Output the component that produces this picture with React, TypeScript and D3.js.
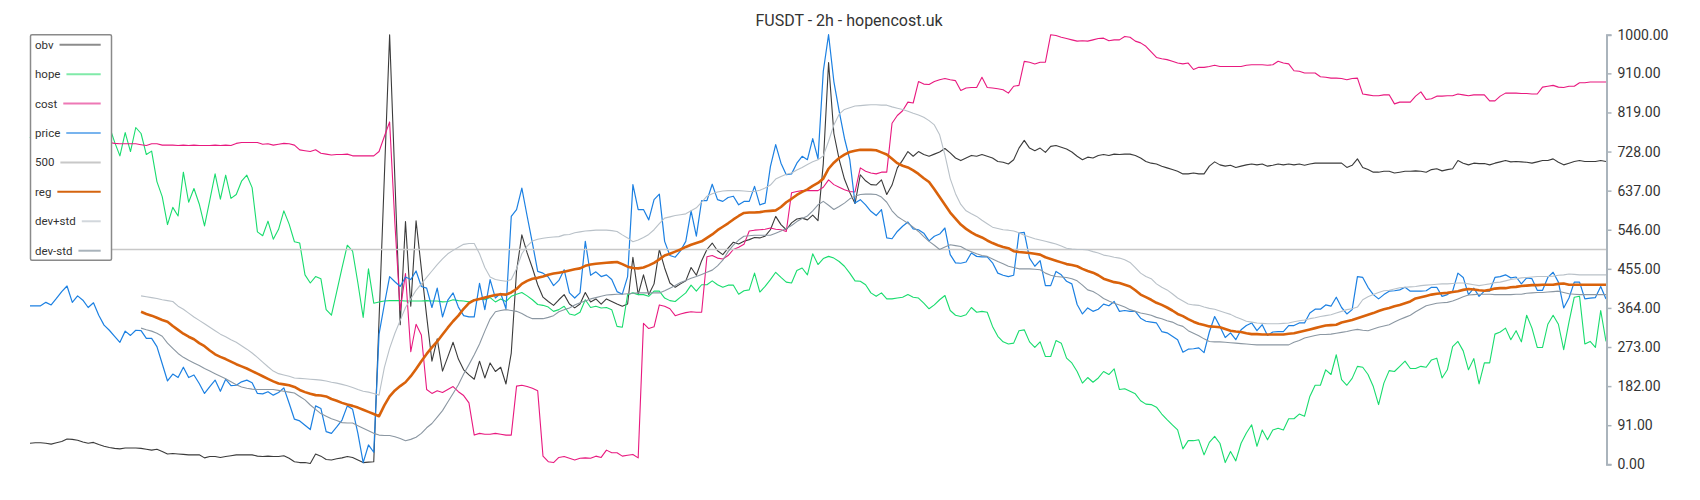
import React, { useEffect, useRef } from 'react';
import * as d3 from 'd3';

const TITLE = 'FUSDT - 2h - hopencost.uk';
const Y_TICKS = [0, 91, 182, 273, 364, 455, 546, 637, 728, 819, 910, 1000];
const LEVEL_500 = 500;
const BAND_START = 21;

const obv = [49,50,50,49,47,50,53,59,58,56,
52,49,51,46,42,39,37,36,38,38,
38,37,35,33,35,30,24,25,24,23,
22,22,22,15,18,18,16,18,20,22,
22,22,22,19,18,19,18,18,20,14,
6,4,4,2,24,19,11,10,13,15,
18,16,10,4,5,6,337,668,1000,662,
325,565,368,567,455,345,240,292,217,250,
284,245,220,208,198,240,201,236,216,226,
187,259,450,534,492,457,418,389,379,370,
383,395,373,364,373,400,378,385,373,385,
379,373,368,373,482,395,441,395,420,500,
457,422,412,420,427,458,440,474,500,515,
497,488,503,517,513,519,523,528,527,531,
546,577,558,546,562,571,573,569,580,567,
700,935,770,710,664,633,607,674,660,651,
650,662,628,650,690,708,728,717,728,721,
717,722,727,735,725,713,707,713,719,717,
721,717,713,705,703,699,709,736,754,736,
730,736,726,740,742,738,734,727,717,709,
715,713,719,721,719,722,721,722,722,719,
713,705,701,699,694,690,686,682,676,676,
678,676,676,694,704,697,694,696,691,694,
697,699,697,699,694,696,699,697,699,697,
699,696,699,701,701,701,701,701,701,691,
696,711,691,686,680,680,682,682,678,680,
682,682,683,682,680,686,688,683,686,688,
707,701,697,701,700,700,697,701,704,707,
704,705,704,703,701,704,707,707,711,703,
697,701,705,707,705,705,705,707,705];

const hope = [760,775,790,770,785,800,780,795,775,790,
805,785,770,795,780,787,750,718,772,728,
784,770,721,729,658,623,558,598,578,680,
610,642,606,555,615,676,617,673,619,628,
659,673,644,541,532,566,524,547,590,559,
518,515,441,422,437,432,360,347,402,457,
510,496,422,342,455,375,378,380,381,381,
381,380,380,380,380,381,380,380,378,379,
383,381,380,378,383,385,383,388,378,385,
379,391,396,400,392,383,372,370,366,356,
360,368,350,347,354,383,365,368,364,365,
360,321,319,395,399,395,395,391,403,403,
387,381,379,389,399,417,403,418,418,427,
418,412,417,417,396,404,406,445,401,414,
430,447,435,424,422,451,457,441,490,465,
479,484,480,472,461,445,427,426,418,399,
391,399,385,385,387,389,395,389,387,375,
362,371,383,393,358,347,344,348,365,354,
356,354,321,298,285,280,282,311,313,285,
272,285,251,251,288,282,247,236,216,189,
202,191,201,216,209,222,174,176,170,164,
148,140,139,133,117,104,92,80,36,55,
55,57,22,51,65,49,4,30,8,49,
73,92,42,80,57,80,84,80,106,106,
117,112,158,184,184,220,209,255,197,184,
200,228,226,209,181,139,189,218,216,228,
240,223,223,228,226,243,247,201,220,274,
286,264,220,246,187,236,236,303,308,317,
290,311,285,347,317,272,272,326,347,326,
267,331,389,391,280,286,272,358,286];

const cost = [750,751,749,750,752,750,749,748,750,751,
749,750,748,749,749,749,747,746,746,746,
746,744,742,746,746,743,743,743,742,743,
742,743,742,742,742,743,742,743,742,747,
749,749,749,749,745,746,743,745,747,746,
743,732,730,728,732,724,722,720,721,721,
722,718,718,718,718,718,728,763,797,560,
359,444,262,326,301,174,165,171,167,174,
181,169,160,143,68,72,70,70,72,70,
68,68,182,184,181,177,171,19,6,4,
16,18,14,10,14,15,14,19,16,33,
27,27,19,21,23,15,328,316,320,371,
368,362,346,350,353,355,354,354,483,486,
480,478,486,500,505,512,543,545,546,547,
550,547,546,542,632,635,637,637,637,637,
645,662,651,645,639,635,634,690,682,678,
676,680,680,794,812,823,843,841,891,885,
884,891,895,898,895,893,870,876,877,877,
901,877,876,874,872,864,880,882,938,936,
932,936,936,1000,998,994,991,988,985,986,
985,988,991,992,986,988,988,996,994,985,
981,973,960,947,944,942,938,934,932,934,
919,924,924,926,929,926,926,926,926,926,
929,930,930,930,929,930,938,934,932,916,
915,911,911,911,902,901,899,899,898,895,
898,899,862,860,858,858,860,860,839,843,
843,843,857,867,849,851,857,857,858,858,
862,860,858,860,860,860,846,846,857,864,
864,864,863,863,862,862,878,880,882,878,
877,880,880,888,888,890,890,890,890];

const price = [369,369,369,377,371,386,402,415,377,392,
382,365,376,347,324,312,298,284,310,300,
312,311,293,293,274,234,194,210,202,226,
202,208,188,165,181,196,170,198,183,184,
192,196,190,165,164,169,161,167,178,142,
105,101,91,81,136,130,76,72,87,103,
136,128,72,4,45,28,303,372,437,425,
414,436,430,450,414,410,365,410,343,382,
399,366,346,343,343,421,360,430,387,398,
362,577,593,643,578,515,449,445,436,416,
428,453,399,387,399,519,440,448,437,441,
430,402,396,437,651,593,593,569,616,629,
519,486,482,497,519,590,531,614,614,652,
616,612,621,624,604,612,612,647,604,608,
693,744,701,674,676,701,717,709,758,711,
915,1000,891,822,759,710,608,616,604,589,
579,593,527,525,542,554,564,548,546,538,
520,531,536,550,488,469,468,471,492,484,
483,483,469,445,440,437,440,538,540,480,
461,474,416,416,449,441,426,420,372,350,
364,356,361,373,369,379,356,358,356,356,
340,333,331,329,309,306,298,290,261,268,
269,271,260,308,344,321,295,306,290,313,
323,329,311,325,300,308,309,309,323,323,
329,329,352,361,361,371,368,389,365,350,
360,437,435,412,395,385,395,403,404,406,
412,403,403,403,404,412,412,391,395,403,
445,435,395,410,391,403,403,435,437,441,
434,436,420,434,432,405,405,435,447,424,
364,387,424,424,385,387,388,414,385];

// regression + bands start at BAND_START
const reg = [355,350,346,341,336,332,322,313,304,
297,291,282,275,265,256,250,245,239,233,
228,223,217,211,205,199,193,188,186,184,
180,173,168,164,161,160,158,152,148,143,
139,136,132,127,122,117,112,137,158,172,
182,191,205,222,240,257,272,286,302,318,
333,346,362,375,382,385,388,391,394,396,
395,400,408,420,427,432,434,437,441,444,
446,448,451,454,456,462,465,467,468,469,
470,471,466,460,457,456,458,463,469,477,
486,490,495,500,506,511,515,519,527,535,
545,553,561,570,578,585,586,586,587,589,
590,591,599,610,618,627,634,640,648,655,
665,688,702,713,721,727,730,732,732,732,
731,726,721,711,701,695,691,684,676,666,
657,640,622,604,586,572,558,548,540,533,
528,521,515,510,506,503,496,494,493,492,
490,488,482,478,474,470,466,464,461,455,
450,446,440,432,428,424,422,418,414,405,
395,389,383,376,371,365,358,350,345,338,
332,327,324,321,320,319,315,311,309,308,
305,303,303,302,302,302,302,302,304,305,
308,311,314,317,320,323,324,325,330,333,
336,340,344,348,352,357,361,364,368,371,
375,379,386,389,392,395,397,398,399,401,
403,406,408,407,405,404,406,409,410,410,
412,413,415,416,417,417,418,418,418,420,
421,418,418,418,418,418,418,418,418];

const devPlus = [392,390,388,386,383,381,379,368,361,
352,343,335,327,319,311,303,297,290,284,
276,268,259,249,238,227,217,211,208,205,
201,200,199,198,197,196,194,191,189,186,
183,179,174,170,168,165,161,225,270,305,
335,365,385,405,420,435,450,465,478,490,
498,505,512,514,514,490,458,436,430,428,
426,430,455,490,508,520,524,526,528,529,
530,534,535,539,541,543,544,545,545,545,
544,542,534,527,518,522,528,535,546,560,
573,576,579,581,583,590,597,610,624,630,
634,636,637,637,637,636,635,635,638,643,
650,664,670,675,678,685,691,698,704,709,
718,752,790,815,826,830,834,835,836,837,
837,836,836,832,829,826,822,817,813,808,
800,790,767,720,665,630,605,590,583,577,
568,560,552,549,546,545,543,539,533,529,
525,522,519,516,513,508,503,501,500,500,
499,495,492,487,485,482,480,476,470,458,
445,437,432,420,412,406,397,387,380,373,
371,370,366,363,361,357,353,349,343,338,
333,331,329,328,327,327,327,328,329,332,
334,336,339,341,344,346,348,352,356,360,
362,366,383,390,395,400,404,405,408,411,
412,413,414,416,417,418,419,420,420,421,
422,422,420,418,416,418,420,423,424,427,
430,432,434,435,436,437,437,437,438,440,
441,443,442,441,441,441,441,441,441];

const devMinus = [317,313,310,305,298,282,270,258,249,
242,236,230,223,217,211,205,199,192,185,
180,177,175,174,174,174,174,172,170,168,
166,158,150,138,128,118,112,106,102,97,
96,96,90,84,78,72,68,67,67,64,
60,55,58,63,72,85,95,110,125,145,
165,185,210,232,255,280,310,338,355,358,
360,358,356,351,344,339,339,339,342,346,
355,360,364,371,376,380,385,388,391,394,
395,396,396,397,398,399,399,399,399,399,
404,410,416,423,428,433,437,442,447,452,
462,475,495,510,522,531,532,533,533,533,
533,538,543,549,556,565,572,578,590,604,
612,603,593,600,608,618,624,628,629,629,
628,622,610,590,577,569,561,552,542,530,
519,510,500,506,511,509,507,500,495,490,
486,484,478,472,467,461,458,455,455,455,
454,453,445,440,437,436,435,432,427,417,
406,402,395,386,380,375,371,366,360,356,
352,350,347,342,339,334,331,325,321,311,
305,299,292,286,285,285,284,283,282,281,
280,279,278,278,278,278,278,278,278,284,
288,294,297,300,302,302,303,305,307,309,
312,314,312,311,315,319,322,325,331,337,
342,347,355,362,369,372,375,376,377,380,
385,390,394,395,396,396,396,395,395,395,
395,396,396,398,399,400,400,401,402,403,
400,397,396,395,395,395,395,395,395];

const W = 1700;
const H = 500;
const PLOT_LEFT = 30;
const PLOT_RIGHT = 1606;
const PLOT_TOP = 34.7;
const PLOT_BOTTOM = 464.3;
const FONT = 'Roboto, "Noto Sans", sans-serif';

type Series = { key: string; data: number[]; start: number; color: string; width: number };

const SERIES: Series[] = [
  { key: 'obv', data: obv, start: 0, color: '#3b3b3b', width: 1.1 },
  { key: 'hope', data: hope, start: 0, color: '#19dc6e', width: 1.1 },
  { key: 'cost', data: cost, start: 0, color: '#e8197f', width: 1.1 },
  { key: 'price', data: price, start: 0, color: '#1c80e2', width: 1.2 },
  { key: 'reg', data: reg, start: BAND_START, color: '#d9620b', width: 2.6 },
  { key: 'devPlus', data: devPlus, start: BAND_START, color: '#b9c1c8', width: 1.1 },
  { key: 'devMinus', data: devMinus, start: BAND_START, color: '#8b97a2', width: 1.1 },
];

const LEGEND = [
  { label: 'obv', color: '#8c8c8c' },
  { label: 'hope', color: '#80eaa9' },
  { label: 'cost', color: '#ee78b5' },
  { label: 'price', color: '#78b4ee' },
  { label: '500', color: '#c8c8c8' },
  { label: 'reg', color: '#d5640f' },
  { label: 'dev+std', color: '#d2d7dc' },
  { label: 'dev-std', color: '#a9b3bb' },
];

function textWidth(t: string, font: string): number {
  if (typeof document === 'undefined') return t.length * 6.5;
  const c = document.createElement('canvas').getContext('2d');
  if (!c) return t.length * 6.5;
  c.font = font;
  return c.measureText(t).width;
}

export default function App() {
  const axisRef = useRef<SVGGElement>(null);
  const n = price.length;
  const x = d3.scaleLinear().domain([0, n - 1]).range([PLOT_LEFT, PLOT_RIGHT]);
  const y = d3.scaleLinear().domain([0, 1000]).range([PLOT_BOTTOM, PLOT_TOP]);

  useEffect(() => {
    if (!axisRef.current) return;
    const g = d3.select(axisRef.current);
    g.selectAll('*').remove();
    g.call(
      d3.axisRight(y)
        .tickValues(Y_TICKS)
        .tickFormat((d) => (+d).toFixed(2))
        .tickSize(5)
        .tickSizeOuter(5)
        .tickPadding(6)
    );
    g.select('.domain').attr('stroke', '#aab4bc').attr('stroke-width', 2);
    g.selectAll('.tick line').attr('stroke', '#aab4bc').attr('stroke-width', 1.5);
    g.selectAll('.tick text')
      .attr('fill', '#333')
      .style('font-family', FONT)
      .style('font-size', '14px');
  }, []);

  const lineFor = (s: Series) =>
    d3.line<number>()
      .x((_, i) => x(i + s.start))
      .y((d) => y(d))(s.data) || '';

  const legendX = 30;
  const legendY = 34.7;
  const legendW = 81;
  const legendH = 225.5;
  const rowY0 = 44.7;
  const rowGap = 29.43;
  const legendSize = 11.5;
  const legendFont = `${legendSize}px Roboto`;

  return (
    <svg width={W} height={H} style={{ position: 'absolute', left: 0, top: 0, background: '#fff' }}>
      <rect x={0} y={0} width={W} height={H} fill="#fff" />
      <text x={849} y={26} textAnchor="middle" fontFamily={FONT} fontSize={16} fill="#333">
        {TITLE}
      </text>
      {SERIES.slice(0, 4).map((s) => (
        <path key={s.key} d={lineFor(s)} fill="none" stroke={s.color} strokeWidth={s.width} strokeLinejoin="round" />
      ))}
      <line x1={x(0)} x2={x(n - 1)} y1={y(LEVEL_500)} y2={y(LEVEL_500)} stroke="#c8c8c8" strokeWidth={1.6} />
      {SERIES.slice(4).map((s) => (
        <path key={s.key} d={lineFor(s)} fill="none" stroke={s.color} strokeWidth={s.width} strokeLinejoin="round" />
      ))}
      <g ref={axisRef} transform={`translate(${PLOT_RIGHT + 0.5},0)`} />
      <g>
        <rect x={legendX + 0.5} y={legendY} width={legendW} height={legendH} fill="#fff" stroke="#8a8a8a" strokeWidth={1.5} rx={1.5} />
        {LEGEND.map((l, k) => {
          const cy = rowY0 + k * rowGap;
          const tw = textWidth(l.label, legendFont);
          return (
            <g key={l.label}>
              <text x={35} y={cy} dominantBaseline="central" fontFamily={FONT} fontSize={legendSize} fill="#333">
                {l.label}
              </text>
              <line x1={35 + tw + 6} x2={100.7} y1={cy} y2={cy} stroke={l.color} strokeWidth={2} />
            </g>
          );
        })}
      </g>
    </svg>
  );
}
